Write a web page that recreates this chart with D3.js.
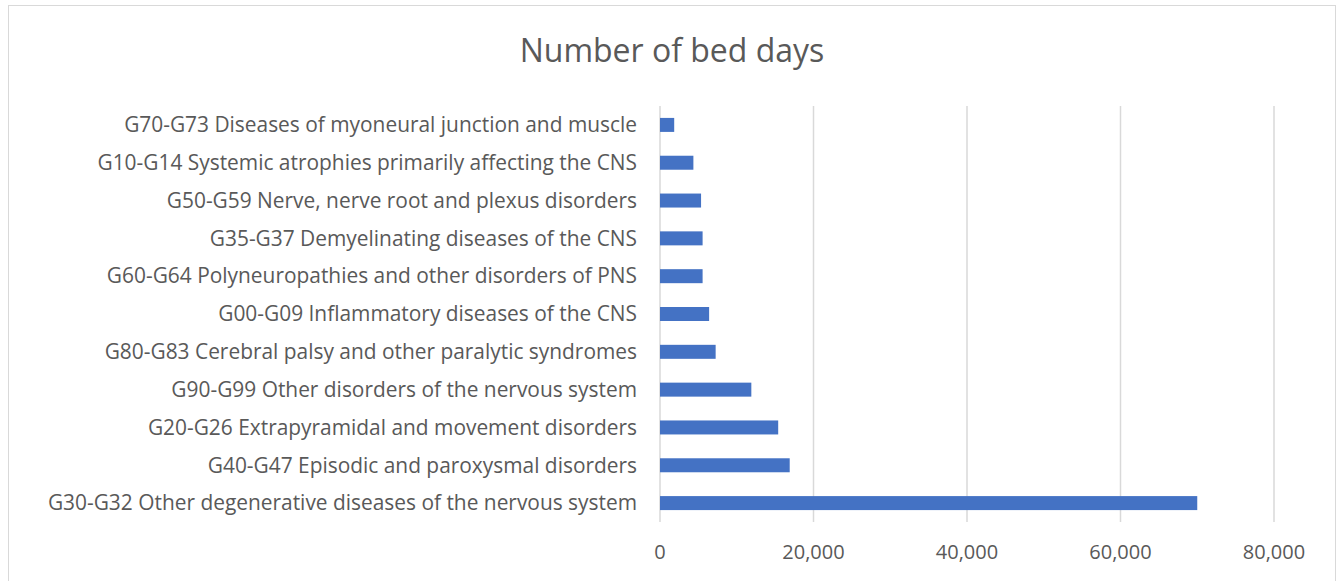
<!DOCTYPE html>
<html>
<head>
<meta charset="utf-8">
<script src="https://cdn.jsdelivr.net/npm/d3@7"></script>
<style>
  body { margin: 0; background: #fff; }
  text { font-family: "Open Sans", sans-serif; fill: #595959; }
</style>
</head>
<body>
<div id="chart"></div>
<script>
// categories, top to bottom as shown
var categories = [
  "G70-G73 Diseases of myoneural junction and muscle",
  "G10-G14 Systemic atrophies primarily affecting the CNS",
  "G50-G59 Nerve, nerve root and plexus disorders",
  "G35-G37 Demyelinating diseases of the CNS",
  "G60-G64 Polyneuropathies and other disorders of PNS",
  "G00-G09 Inflammatory diseases of the CNS",
  "G80-G83 Cerebral palsy and other paralytic syndromes",
  "G90-G99 Other disorders of the nervous system",
  "G20-G26 Extrapyramidal and movement disorders",
  "G40-G47 Episodic and paroxysmal disorders",
  "G30-G32 Other degenerative diseases of the nervous system"
]
var bedDays = [1850, 4350, 5350, 5550, 5550, 6400, 7250, 11900, 15400, 16900, 70000]
var xTicks = [0, 20000, 40000, 60000, 80000]

var W = 1340, H = 581

var svg = d3.select("#chart").append("svg")
    .attr("width", W)
    .attr("height", H)

// outer chart border
svg.append("rect")
    .attr("x", 8.5).attr("y", 5.5)
    .attr("width", 1327).attr("height", 590)
    .attr("fill", "none")
    .attr("stroke", "#d9d9d9")

svg.append("text")
    .attr("x", 672)
    .attr("y", 62)
    .attr("text-anchor", "middle")
    .style("font-size", "32px")
    .text("Number of bed days")

var x = d3.scaleLinear()
  .domain([0, 80000])
  .range([660, 1274])

var y = d3.scaleBand()
  .domain(categories)
  .range([106, 522])
  .paddingInner(0.63)
  .paddingOuter(0.315)

// gridlines
svg.selectAll("line.grid")
    .data(xTicks)
    .enter().append("line")
    .attr("class", "grid")
    .attr("x1", d => x(d)).attr("x2", d => x(d))
    .attr("y1", 106).attr("y2", 522)
    .attr("stroke", "#d9d9d9")
    .attr("stroke-width", 1.5)

svg.selectAll("rect.bar")
    .data(bedDays)
    .enter().append("rect")
    .attr("class", "bar")
    .attr("x", x(0))
    .attr("y", (d, i) => y(categories[i]))
    .attr("width", d => x(d) - x(0))
    .attr("height", y.bandwidth())
    .attr("fill", "#4472c4")

// category labels
svg.selectAll("text.cat")
    .data(categories)
    .enter().append("text")
    .attr("class", "cat")
    .attr("x", 637)
    .attr("y", d => y(d) + y.bandwidth() / 2)
    .attr("dy", "0.35em")
    .attr("text-anchor", "end")
    .style("font-size", "20.9px")
    .text(d => d)

// x tick labels
svg.selectAll("text.tick")
    .data(xTicks)
    .enter().append("text")
    .attr("class", "tick")
    .attr("x", d => x(d))
    .attr("y", 552)
    .attr("dy", "0.35em")
    .attr("text-anchor", "middle")
    .style("font-size", "20px")
    .text(d => d3.format(",")(d))
</script>
</body>
</html>
